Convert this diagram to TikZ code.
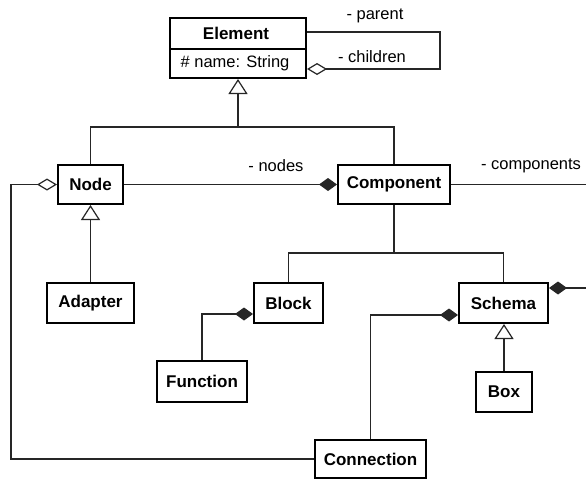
\documentclass[tikz,border=0pt]{standalone}
\usepackage{fontspec}
\setmainfont{Liberation Sans}
\usetikzlibrary{arrows.meta}
\begin{document}
\begin{tikzpicture}[x=1pt,y=-1pt,
  cls/.style={draw=black,line width=2pt,fill=white,inner sep=0pt,
    font=\fontsize{17}{19}\selectfont\bfseries},
  conn/.style={draw=black!85,line width=1.2pt},
  gen/.style={conn,-{Triangle[open,length=15pt,width=19pt,line width=1.2pt]}},
  agg/.style={conn,{Diamond[open,length=20pt,width=12pt,line width=1.2pt]}-},
  comp/.style={conn,{Diamond[length=18pt,width=13pt]}-},
  role/.style={font=\fontsize{16.5}{18}\selectfont,inner sep=0pt}]
\useasboundingbox[fill=white] (0,0) rectangle (586,479);

% classes
\node[cls,minimum width=136pt,minimum height=60pt] (element) at (238,48) {};
\node[role,font=\fontsize{17}{19}\selectfont\bfseries] (elname) at (236,33.5) {Element};
\node[role] (elattr) at (235,63.5) {\# name: String};
\draw[line width=1.2pt] (element.west |- 0,49) -- (element.east |- 0,49);

\node[cls,minimum width=65pt,minimum height=39pt] (node) at (90.5,184.5) {Node};
\node[cls,minimum width=87pt,minimum height=40pt] (adapter) at (90.5,303) {Adapter};
\node[cls,minimum width=112pt,minimum height=39pt] (component) at (394,184.5) {Component};
\node[cls,minimum width=69pt,minimum height=40pt] (block) at (288.5,303) {Block};
\node[cls,minimum width=89pt,minimum height=40pt] (schema) at (503.5,303) {Schema};
\node[cls,minimum width=90pt,minimum height=41pt] (function) at (202,381.5) {Function};
\node[cls,minimum width=56pt,minimum height=40pt] (box) at (504,392) {Box};
\node[cls,minimum width=111pt,minimum height=38pt] (connection) at (370.5,459) {Connection};

% inheritance from Element
\coordinate (genE) at (238,127);
\draw[conn] (node.north) |- (genE) -| (component.north);
\draw[gen] (genE) -- (element.south);

% parent / children self association
\coordinate (selfT) at (440,32);
\coordinate (selfB) at (440,69);
\draw[agg] (element.east |- selfB) -- (selfB) -- (selfT) -- (element.east |- selfT);
\node[role] (lparent) at (375,16) {- parent};
\node[role] (lchildren) at (372,57) {- children};

% Node and its subclass
\draw[gen] (adapter.north) -- (node.south);
\draw[comp] (component.west) -- (node.east);
\node[role] (lnodes) at (276,166) {- nodes};

% components association leaving to the right
\coordinate (compR) at (586,184.5);
\draw[conn] (component.east) -- (compR);
\node[role] (lcomponents) at (531,166) {- components};

% Component branches
\coordinate (split) at (394,253);
\draw[conn] (component.south) -- (split);
\draw[conn] (block.north) |- (split) -| (schema.north);

% compositions
\draw[comp] ([yshift=-11pt]block.west) -| (function.north);
\draw[comp] ([yshift=-12pt]schema.west) -| (connection.north);
\coordinate (schR) at (586,288);
\draw[comp] (schema.east |- schR) -- (schR);
\draw[gen] (box.north) -- (box.north |- schema.south);

% nodes of a connection
\coordinate (loopL) at (11,184.5);
\draw[agg] (node.west) -- (loopL) |- (connection.west);
\end{tikzpicture}
\end{document}
